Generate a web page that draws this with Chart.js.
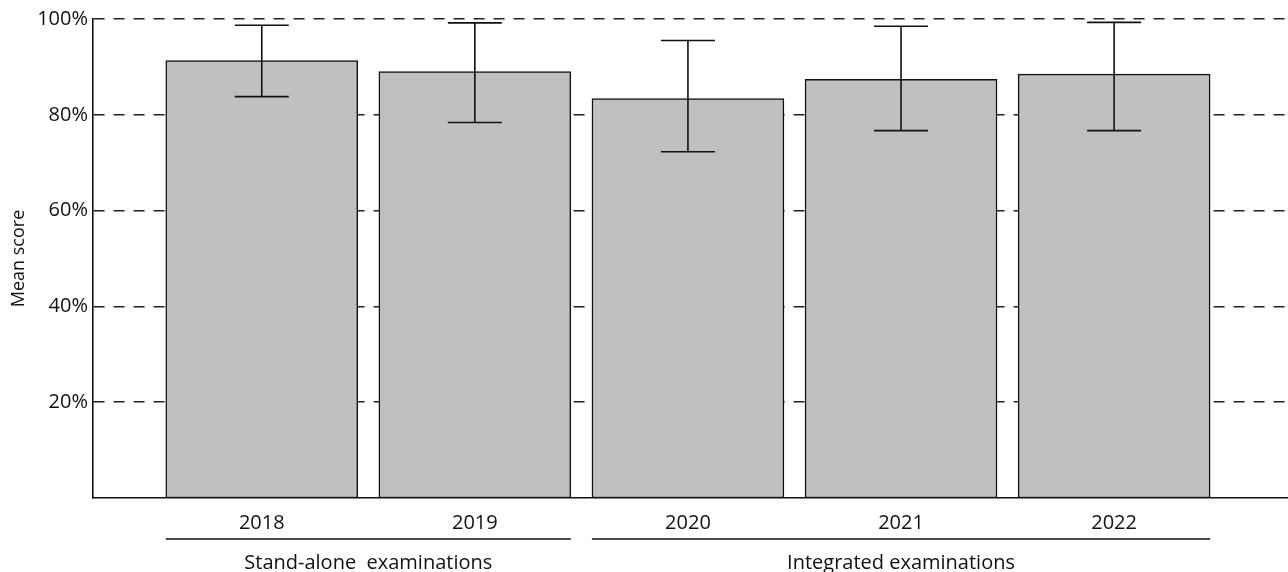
<!DOCTYPE html>
<html>
<head>
<meta charset="utf-8">
<script src="https://cdn.jsdelivr.net/npm/chart.js@4.4.1/dist/chart.umd.min.js"></script>
<style>
  html, body { margin: 0; padding: 0; background: #fff; }
  #wrap { width: 1288px; height: 572px; position: relative; }
</style>
</head>
<body>
<div id="wrap"><canvas id="c" width="1288" height="572"></canvas></div>
<script>
// Exam years and the mean score per year (percent)
const categories = ['2018', '2019', '2020', '2021', '2022'];
const meanScore  = [91.3, 89.0, 83.4, 87.4, 88.5];
// Error bar ends (percent)
const errLow  = [83.8, 78.4, 72.3, 76.7, 76.7];
const errHigh = [98.7, 99.2, 95.5, 98.5, 99.3];
// Y-axis ticks
const yTicks = [20, 40, 60, 80, 100];
// Examination formats, spanning category indices
const groupLabels = ['Stand-alone  examinations', 'Integrated examinations'];
const groupStart  = [0, 2];
const groupEnd    = [1, 4];

const FONT = '"Open Sans", "Noto Sans", sans-serif';
const INK = '#111111';
const BAR_W = 192;

const errorBars = {
  id: 'errorBars',
  afterDatasetsDraw(chart) {
    const { ctx, scales: { x, y } } = chart;
    ctx.save();
    ctx.strokeStyle = INK;
    ctx.lineWidth = 1.6;
    categories.forEach((c, i) => {
      const px = x.getPixelForValue(i);
      const lo = y.getPixelForValue(errLow[i]);
      const hi = y.getPixelForValue(errHigh[i]);
      ctx.beginPath();
      ctx.moveTo(px, lo); ctx.lineTo(px, hi);
      ctx.moveTo(px - 27, lo); ctx.lineTo(px + 27, lo);
      ctx.moveTo(px - 27, hi); ctx.lineTo(px + 27, hi);
      ctx.stroke();
    });
    ctx.restore();
  }
};

const groupAxis = {
  id: 'groupAxis',
  afterDraw(chart) {
    const { ctx, scales: { x } } = chart;
    ctx.save();
    ctx.strokeStyle = INK;
    ctx.fillStyle = INK;
    ctx.lineWidth = 1.6;
    ctx.font = '20px ' + FONT;
    ctx.textAlign = 'center';
    ctx.textBaseline = 'alphabetic';
    groupLabels.forEach((g, k) => {
      const left = x.getPixelForValue(groupStart[k]) - BAR_W / 2;
      const right = x.getPixelForValue(groupEnd[k]) + BAR_W / 2;
      ctx.beginPath();
      ctx.moveTo(left, 539); ctx.lineTo(right, 539);
      ctx.stroke();
      ctx.fillText(g, (left + right) / 2, 569);
    });
    ctx.restore();
  }
};

new Chart(document.getElementById('c'), {
  type: 'bar',
  data: {
    datasets: [{
      data: meanScore.map((v, i) => ({ x: i, y: v })),
      backgroundColor: '#c0c0c0',
      borderColor: INK,
      borderWidth: 1.5,
      borderSkipped: false,
      barThickness: BAR_W
    }]
  },
  options: {
    responsive: false,
    animation: false,
    layout: { padding: { top: 19, left: 0, right: 0, bottom: 0 } },
    plugins: { legend: { display: false }, tooltip: { enabled: false } },
    scales: {
      x: {
        type: 'linear',
        offset: false,
        min: -0.792,
        max: 4.816,
        afterBuildTicks(scale) {
          scale.ticks = categories.map((c, i) => ({ value: i }));
        },
        afterFit(scale) { scale.height = 74; },
        ticks: {
          callback: v => categories[v],
          color: INK,
          font: { family: FONT, size: 20 },
          padding: 13,
          maxRotation: 0,
          autoSkip: false
        },
        grid: { display: false, drawTicks: false },
        border: { display: true, color: INK, width: 1.6 }
      },
      y: {
        min: 0,
        max: 100,
        afterBuildTicks(scale) {
          scale.ticks = yTicks.map(v => ({ value: v }));
        },
        afterFit(scale) { scale.width = 93; },
        ticks: {
          callback: v => v + '%',
          color: INK,
          font: { family: FONT, size: 20 },
          padding: 5
        },
        grid: {
          color: '#222222',
          lineWidth: 1.5,
          drawTicks: false
        },
        border: { display: true, color: INK, width: 1.6, dash: [11, 9] },
        title: {
          display: true,
          text: 'Mean score',
          color: INK,
          font: { family: FONT, size: 18 },
          padding: { top: 8, bottom: 4 }
        }
      }
    }
  },
  plugins: [errorBars, groupAxis]
});
</script>
</body>
</html>
